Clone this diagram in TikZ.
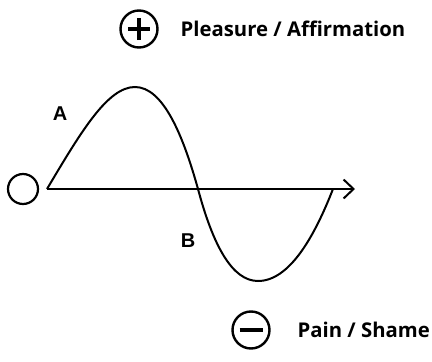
\documentclass[tikz,border=0pt]{standalone}
\usepackage{fontspec}
\usepackage{tikz}
\usetikzlibrary{arrows.meta,positioning}
\newfontfamily\labelfont{Open Sans}
\newfontfamily\letterfont{Liberation Sans}

\begin{document}
\begin{tikzpicture}[x=1pt,y=-1pt,line width=2pt,
    valence/.style={draw,circle,line width=2.4pt,minimum size=37pt,inner sep=0pt},
    pole/.style={font=\labelfont\bfseries\fontsize{20.3}{24}\selectfont,inner sep=0pt,anchor=west},
    phase/.style={font=\letterfont\bfseries\fontsize{20}{22}\selectfont,inner sep=0pt},
    node distance=0.3cm and 0.8cm]
  \useasboundingbox (0,0) rectangle (432,362);
  % neutral point and time axis
  \node[valence,line width=2.2pt,minimum size=30pt] (zero) at (23,189) {};
  \coordinate (start) at (47,189);
  \coordinate (tip) at (355,189);
  \draw[-{Straight Barb[length=10pt,width=19pt]}] (start) -- (tip);
  % the swing
  \coordinate (peak) at (135,87);
  \coordinate (cross) at (198,189);
  \coordinate (trough) at (258,281);
  \coordinate (back) at (333,189);
  \draw (start) .. controls (82,130) and (108,87) .. (peak)
        .. controls (163,87) and (183,135) .. (cross)
        .. controls (213,245) and (232,281) .. (trough)
        .. controls (290,281) and (315,235) .. (back);
  \node[phase] (A) at (60,114) {A};
  \node[phase] (B) at (188,241) {B};
  % poles
  \node[valence] (plus) at (139,29) {};
  \draw[line width=4.8pt] ([xshift=-11pt]plus.center) -- ([xshift=11pt]plus.center)
        ([yshift=-11pt]plus.center) -- ([yshift=11pt]plus.center);
  \node[pole,right=21pt of plus.east,anchor=west] (pleasure) {Pleasure / Affirmation};
  \node[valence] (minus) at (251,330) {};
  \draw[line width=4.8pt] ([xshift=-11.5pt]minus.center) -- ([xshift=11.5pt]minus.center);
  \node[pole,right=26pt of minus.east,anchor=west] (pain) {Pain / Shame};
\end{tikzpicture}
\end{document}
